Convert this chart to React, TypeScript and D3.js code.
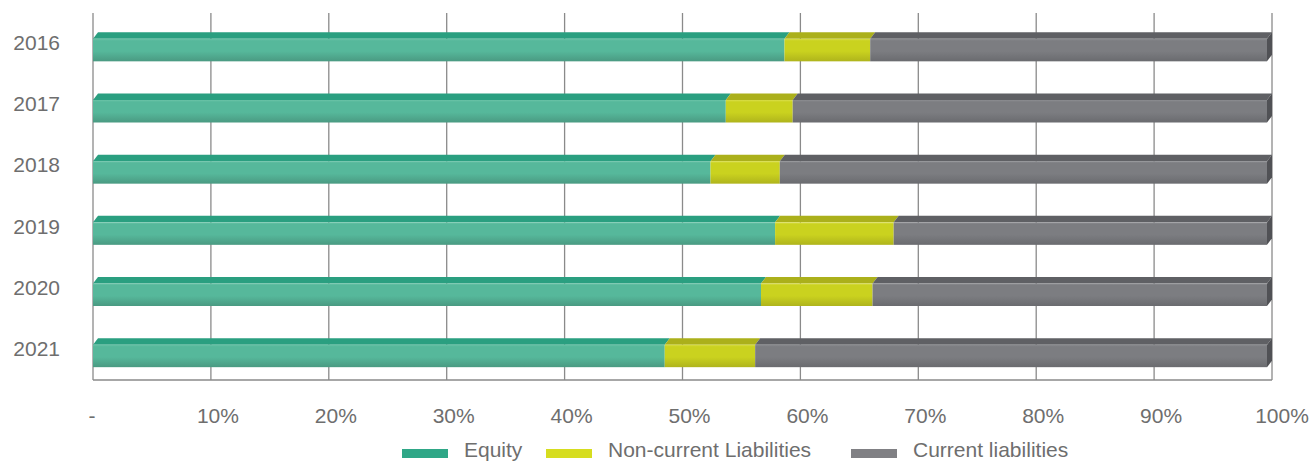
import React from "react";
import * as d3 from "d3";

// Capital structure shares (% of total), by year
const years = ["2016", "2017", "2018", "2019", "2020", "2021"];
const equity = [58.9, 53.9, 52.6, 58.1, 56.9, 48.7];
const nonCurrent = [7.3, 5.7, 5.9, 10.1, 9.5, 7.7];
const current = years.map((_, i) => 100 - equity[i] - nonCurrent[i]);
const seriesNames = ["Equity", "Non-current Liabilities", "Current liabilities"];
const tickValues = [0, 10, 20, 30, 40, 50, 60, 70, 80, 90, 100];

const W = 1311;
const H = 462;
const plotLeft = 93;
const plotRight = 1272;
const plotTop = 13;
const plotBottom = 380;
const depthX = 5;
const depthY = 6.5;
const frontH = 22.5;
const textColor = "#6e6e6e";
const font = "'Liberation Sans', Arial, Helvetica, sans-serif";

const palette = [
  { top: "#2a9f80", hi: "#6ac3a7", main: "#56b89b", low: "#4a9a82", side: "#238066", swatch: "#2fa787" },
  { top: "#abb01b", hi: "#d9de4a", main: "#cad21f", low: "#afb41c", side: "#8d9114", swatch: "#d6dd1f" },
  { top: "#5f6064", hi: "#8c8d91", main: "#7c7d81", low: "#6a6b6f", side: "#505155", swatch: "#808084" },
];

const legendX = [402, 546, 851];

export default function App() {
  // front plane of the bars and the back wall (gridlines) use slightly different extents
  const x = d3.scaleLinear().domain([0, 100]).range([plotLeft, plotRight - depthX]);
  const gx = d3.scaleLinear().domain([0, 100]).range([plotLeft, plotRight]);
  const y = d3.scaleBand().domain(years).range([plotTop, plotBottom]).padding(0);

  const stackData = years.map((yr, i) => ({ year: yr, e: equity[i], n: nonCurrent[i], c: current[i] }));
  const stack = d3.stack<any>().keys(["e", "n", "c"]);
  const layers = stack(stackData);

  const fmt = (t: number) => (t === 0 ? "-" : `${t}%`);

  return (
    <svg width={W} height={H} style={{ position: "absolute", left: 0, top: 0, background: "#fff" }}>
      <defs>
        {palette.map((p, i) => (
          <linearGradient key={i} id={`front${i}`} x1="0" y1="0" x2="0" y2="1">
            <stop offset="0" stopColor={p.hi} />
            <stop offset="0.09" stopColor={p.main} />
            <stop offset="0.55" stopColor={p.main} />
            <stop offset="1" stopColor={p.low} />
          </linearGradient>
        ))}
      </defs>

      {/* gridlines on the back wall */}
      {tickValues.map((t) => (
        <line key={t} x1={gx(t)} x2={gx(t)} y1={plotTop} y2={plotBottom} stroke="#8a8a8a" strokeWidth={1.3} />
      ))}
      <line x1={plotLeft} x2={plotRight} y1={plotBottom} y2={plotBottom} stroke="#8a8a8a" strokeWidth={1.3} />

      {/* stacked 3D bars */}
      {layers.map((layer, li) => {
        const p = palette[li];
        return (
          <g key={li}>
            {layer.map((d, di) => {
              const yr = years[di];
              const cy = (y(yr) as number) + y.bandwidth() / 2;
              const fTop = cy - frontH / 2 + depthY;
              const x0 = x(d[0]);
              const x1 = x(d[1]);
              const topFace = `M${x0},${fTop} L${x1},${fTop} L${x1 + depthX},${fTop - depthY} L${x0 + depthX},${fTop - depthY} Z`;
              const sideFace = `M${x1},${fTop} L${x1 + depthX},${fTop - depthY} L${x1 + depthX},${fTop - depthY + frontH} L${x1},${fTop + frontH} Z`;
              return (
                <g key={di}>
                  <path d={topFace} fill={p.top} />
                  {li === layers.length - 1 && <path d={sideFace} fill={p.side} />}
                  <rect x={x0} y={fTop} width={x1 - x0} height={frontH} fill={`url(#front${li})`} />
                </g>
              );
            })}
          </g>
        );
      })}

      {/* category labels */}
      {years.map((yr) => (
        <text
          key={yr}
          x={60}
          y={(y(yr) as number) + y.bandwidth() / 2 - 1}
          dy="0.36em"
          textAnchor="end"
          fontFamily={font}
          fontSize={21}
          fill={textColor}
        >
          {yr}
        </text>
      ))}

      {/* value axis labels */}
      {tickValues.map((t) => (
        <text
          key={t}
          x={gx(t) + (t === 0 ? -1 : t === 100 ? 10 : 7)}
          y={423}
          textAnchor="middle"
          fontFamily={font}
          fontSize={21}
          fill={textColor}
        >
          {fmt(t)}
        </text>
      ))}

      {/* legend */}
      {seriesNames.map((name, i) => (
        <g key={name} transform={`translate(${legendX[i]},0)`}>
          <rect x={0} y={449} width={46} height={9} fill={palette[i].swatch} />
          <text x={62} y={457} fontFamily={font} fontSize={21} fill={textColor}>
            {name}
          </text>
        </g>
      ))}
    </svg>
  );
}
